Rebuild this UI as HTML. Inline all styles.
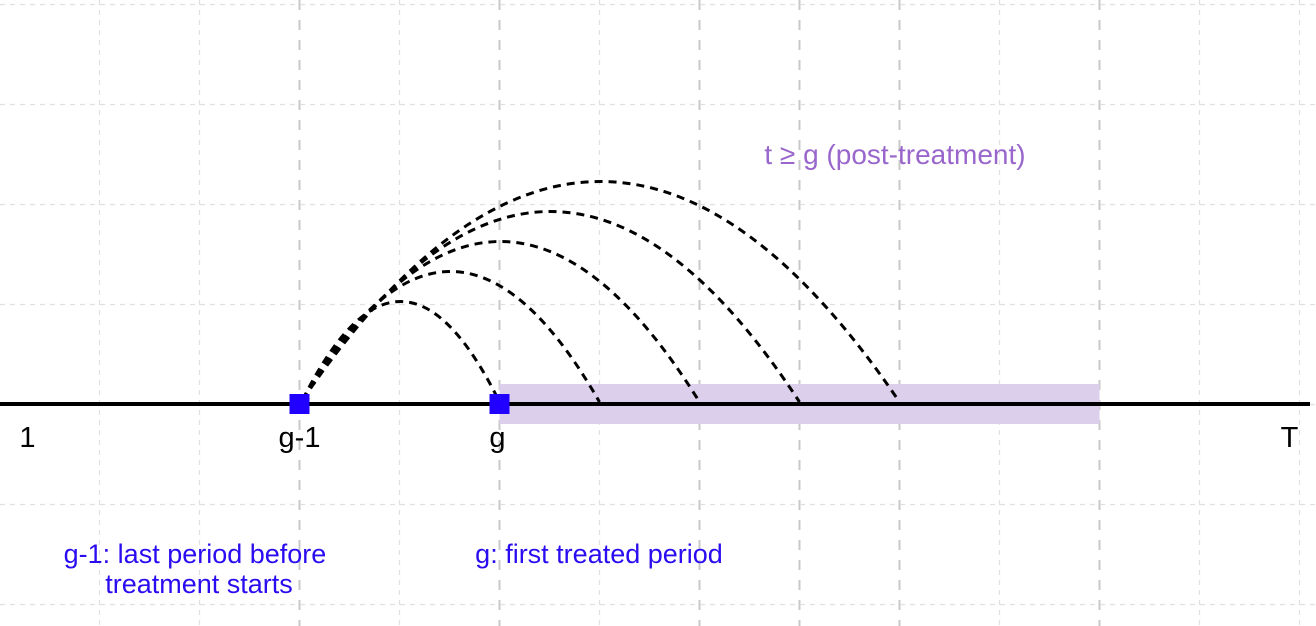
<!DOCTYPE html>
<html><head><meta charset="utf-8"><style>
html,body{margin:0;padding:0;background:#fff;overflow:hidden;}
svg{display:block;font-family:"Liberation Sans",Arial,sans-serif;}
</style></head><body>
<svg id="chart" width="1316" height="626" viewBox="0 0 1316 626" xmlns="http://www.w3.org/2000/svg">
<g id="grid"></g>
<rect id="band" fill="#dccfec"/>
<line id="axis" stroke="#000" stroke-width="4"/>
<g id="arcs"></g>
<g id="marks"></g>
<g id="labels"></g>
<text x="895" y="164" text-anchor="middle" font-size="28" fill="#9966cc">t ≥ g (post-treatment)</text>
<text font-size="27" fill="#2a0cf0" text-anchor="middle"><tspan x="195" y="563">g-1: last period before</tspan><tspan x="199" y="593">treatment starts</tspan></text>
<text x="599" y="563" font-size="27" fill="#2a0cf0" text-anchor="middle">g: first treated period</text>
</svg>
<script>
const tickPeriods=[0.28,3,4.98,12.9];
const tickLabels=["1","g-1","g","T"];
const markerPeriods=[3,5];
const arcStart=3;
const arcEnds=[5,6,7,8,9];
const arcHeights=[1.0,1.3,1.6,1.9,2.2];
const bandRange=[5,11];
const gridX=[1,2,3,4,5,6,7,8,9,10,11,12,13];
const strongGridX=[3,5,7,8,9,11];
const gridY=[-2,-1,0,1,2,3,4];
const NS="http://www.w3.org/2000/svg";
const xs=t=>t*100-0.5;
const ys=v=>404-v*100;
function mk(tag,attrs,parent){const e=document.createElementNS(NS,tag);for(const k in attrs)e.setAttribute(k,attrs[k]);parent.appendChild(e);return e;}
const grid=document.getElementById('grid');
gridX.forEach(t=>{const strong=strongGridX.includes(t);
 const l=mk('line',{x1:xs(t),x2:xs(t),y1:0,y2:626,stroke:strong?'#c8c8c8':'#e0e0e0','stroke-width':strong?2:1.2,'stroke-dasharray':strong?'10,10':'5,5'},grid);
 
 });
gridY.forEach(v=>{const y=ys(v)+0.5;if(y<0||y>626)return;
 const l=mk('line',{x1:0,x2:1316,y1:y,y2:y,stroke:'#e0e0e0','stroke-width':1.2,'stroke-dasharray':'5,5'},grid);
 
 });
const band=document.getElementById('band');
band.setAttribute('x',xs(bandRange[0]));band.setAttribute('width',xs(bandRange[1])-xs(bandRange[0]));
band.setAttribute('y',ys(0.2));band.setAttribute('height',40);
const ax=document.getElementById('axis');
ax.setAttribute('x1',0);ax.setAttribute('x2',1310);ax.setAttribute('y1',ys(0));ax.setAttribute('y2',ys(0));
const arcs=document.getElementById('arcs');
arcEnds.forEach((e,i)=>{const x0=xs(arcStart)+3,x1=xs(e),mx=(x0+x1)/2,cy=ys(0)-2-2*arcHeights[i]*100;
 const p=mk('path',{d:`M${x0},${ys(0)-4} Q${mx},${cy} ${x1},${ys(0)-2}`,fill:'none',stroke:'#000','stroke-width':3,'stroke-dasharray':'8,6'},arcs);
 
 });
const marks=document.getElementById('marks');
markerPeriods.forEach(t=>{const r=mk('rect',{x:xs(t)-10,y:ys(0)-10,width:20,height:20,fill:'#2200ff'},marks);
 
 });
const labels=document.getElementById('labels');
tickPeriods.forEach((t,i)=>{const tx=mk('text',{x:xs(t),y:447,'text-anchor':'middle','font-size':29,fill:'#000'},labels);
 tx.textContent=tickLabels[i];
 
 });
</script>
</body></html>
